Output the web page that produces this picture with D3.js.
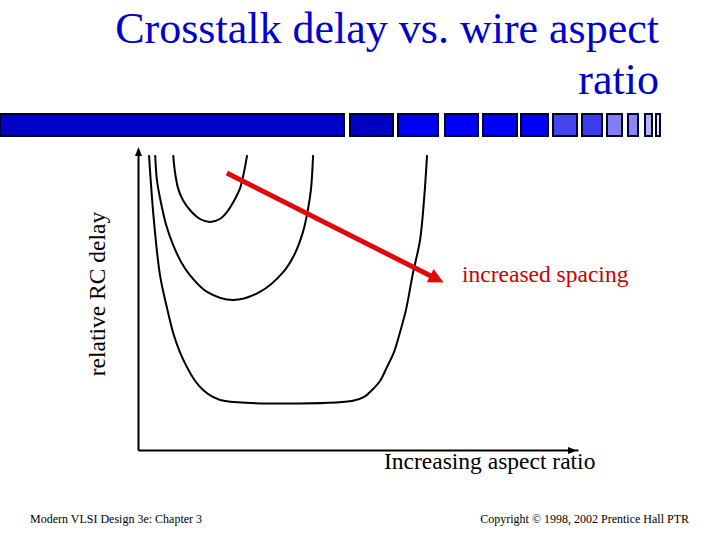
<!DOCTYPE html>
<html>
<head>
<meta charset="utf-8">
<script src="https://cdn.jsdelivr.net/npm/d3@7"></script>
<style>
  body { margin: 0; background: #fff; }
  svg { display: block; font-family: "Liberation Serif", "Times New Roman", serif; }
</style>
</head>
<body>
<svg id="chart" width="720" height="540"></svg>
<script>
// curve points: [aspect ratio, relative delay]
const narrowSpacing = [
    [0.80, 9.83], [0.84, 9.27], [0.91, 8.73], [1.02, 8.33], [1.18, 8.0], [1.41, 7.7],
    [1.64, 7.6], [1.86, 7.7], [2.02, 7.93], [2.18, 8.3], [2.32, 8.73], [2.41, 9.27], [2.48, 9.83]
];
const mediumSpacing = [
    [0.39, 9.83], [0.43, 9.0], [0.50, 8.4], [0.64, 7.5], [0.80, 6.83], [0.98, 6.27],
    [1.18, 5.83], [1.57, 5.27], [2.16, 5.0], [2.77, 5.27], [3.30, 5.93], [3.55, 6.5],
    [3.75, 7.27], [3.86, 8.0], [3.93, 8.67], [3.98, 9.83]
];
const wideSpacing = [
    [0.25, 9.83], [0.36, 7.67], [0.50, 5.83], [0.66, 4.73], [0.80, 3.9], [0.95, 3.27],
    [1.11, 2.77], [1.30, 2.3], [1.48, 2.0], [1.70, 1.77], [1.98, 1.63], [4.86, 1.63],
    [5.14, 1.77], [5.32, 2.0], [5.50, 2.3], [5.66, 2.77], [5.82, 3.27], [5.95, 3.9],
    [6.09, 4.67], [6.25, 5.9], [6.41, 7.0], [6.50, 8.33], [6.57, 9.83]
];
const curves = [narrowSpacing, mediumSpacing, wideSpacing];
const spacingArrow = [[2.02, 9.23], [6.93, 5.6]];

const titleLines = ["Crosstalk delay vs. wire aspect", "ratio"];
const xLabel = "Increasing aspect ratio";
const yLabel = "relative RC delay";
const arrowLabel = "increased spacing";
const footerLeft = "Modern VLSI Design 3e: Chapter 3";
const footerRight = "Copyright \u00a9 1998, 2002 Prentice Hall PTR";

// decorative header strip: [x0, x1, fill]
const stripBoxes = [
    [0, 344, "#0000c8"], [350, 393, "#0000c4"], [398, 438, "#0000f4"], [445, 478, "#0000ff"],
    [483, 517, "#0000fc"], [521, 548, "#0000fa"], [553, 577, "#4444ee"], [582, 602, "#3c3cec"],
    [607, 622, "#8080f2"], [628, 638, "#8888f0"], [645, 652, "#b4b4f2"], [656, 660, "#e8e8fa"]
];

const svg = d3.select("#chart");

const x = d3.scaleLinear().domain([0, 10]).range([138, 578]);
const y = d3.scaleLinear().domain([0, 10]).range([450, 150]);

// title
svg.append("g")
    .selectAll("text")
    .data(titleLines)
    .join("text")
    .attr("x", 659)
    .attr("y", (d, i) => 43 + i * 51)
    .attr("text-anchor", "end")
    .attr("font-size", 44)
    .attr("fill", "#0000cc")
    .text(d => d);

svg.append("g")
    .selectAll("rect")
    .data(stripBoxes)
    .join("rect")
    .attr("x", d => d[0])
    .attr("y", 114)
    .attr("width", d => d[1] - d[0])
    .attr("height", 22)
    .attr("fill", d => d[2])
    .attr("stroke", "#000033")
    .attr("stroke-width", 2);

// axes, no ticks
svg.append("g")
    .attr("transform", `translate(${x(0)},0)`)
    .call(d3.axisLeft(y).tickValues([]).tickSizeOuter(0))
    .select(".domain").attr("stroke-width", 2);

svg.append("g")
    .attr("transform", `translate(0,${y(0)})`)
    .call(d3.axisBottom(x).tickValues([]).tickSizeOuter(0))
    .select(".domain").attr("stroke-width", 2);

// axis arrowheads
svg.append("path")
    .attr("d", `M${x(0) + 0.5},${y(10) - 3}l-3.5,9h7z`)
    .attr("fill", "#000");
svg.append("path")
    .attr("d", `M${x(10) - 1},${y(0) + 0.5}l-9,-3.5v7z`)
    .attr("fill", "#000");

const line = d3.line()
    .x(d => x(d[0]))
    .y(d => y(d[1]))
    .curve(d3.curveCatmullRom.alpha(0.5));

svg.append("g")
    .selectAll("path")
    .data(curves)
    .join("path")
    .attr("d", line)
    .attr("fill", "none")
    .attr("stroke", "#000")
    .attr("stroke-width", 2);

// red arrow
svg.append("defs").append("marker")
    .attr("id", "redHead")
    .attr("viewBox", "0 0 10 10")
    .attr("refX", 2)
    .attr("refY", 5)
    .attr("markerWidth", 3.4)
    .attr("markerHeight", 3)
    .attr("markerUnits", "strokeWidth")
    .attr("orient", "auto")
    .append("path")
    .attr("d", "M0,0L10,5L0,10z")
    .attr("fill", "#e00a0a");

svg.append("line")
    .attr("x1", x(spacingArrow[0][0]))
    .attr("y1", y(spacingArrow[0][1]))
    .attr("x2", x(spacingArrow[1][0]) - 10)
    .attr("y2", y(spacingArrow[1][1]) - 5)
    .attr("stroke", "#e00a0a")
    .attr("stroke-width", 5)
    .attr("marker-end", "url(#redHead)");

svg.append("text")
    .attr("x", 462)
    .attr("y", 282)
    .attr("font-size", 23.5)
    .attr("fill", "#cc0000")
    .text(arrowLabel);

svg.append("text")
    .attr("x", 384)
    .attr("y", 469)
    .attr("font-size", 23.5)
    .attr("fill", "#000")
    .text(xLabel);

svg.append("text")
    .attr("transform", "translate(105,294) rotate(-90)")
    .attr("text-anchor", "middle")
    .attr("font-size", 23.5)
    .attr("fill", "#000")
    .text(yLabel);

// footer
svg.append("text")
    .attr("x", 30)
    .attr("y", 523)
    .attr("font-size", 12)
    .text(footerLeft);

svg.append("text")
    .attr("x", 689)
    .attr("y", 523)
    .attr("text-anchor", "end")
    .attr("font-size", 12)
    .text(footerRight);
</script>
</body>
</html>
